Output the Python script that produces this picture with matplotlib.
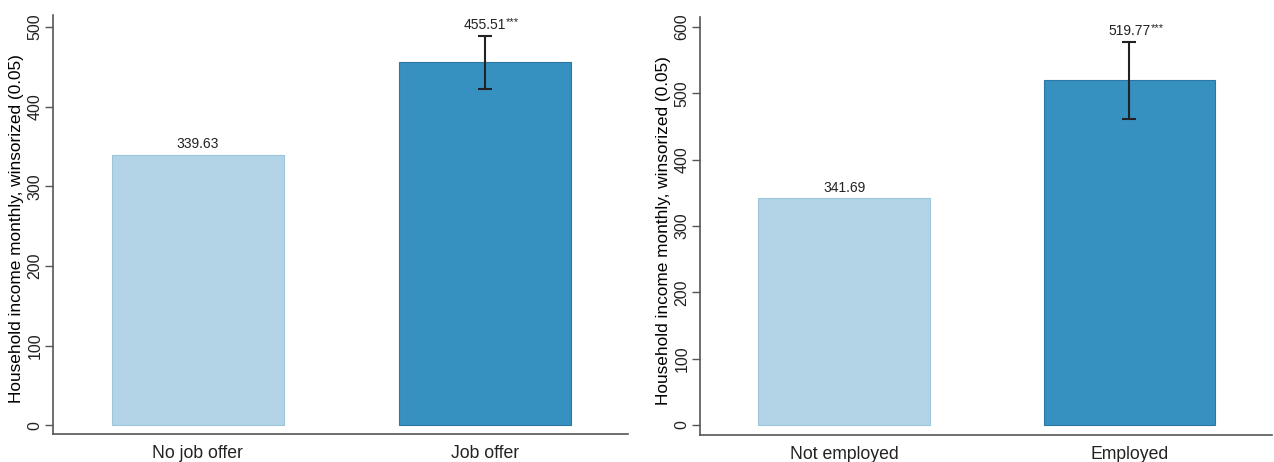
import numpy as np
import matplotlib
matplotlib.use('Agg')
import matplotlib.pyplot as plt

plt.rcParams['font.family'] = ['Liberation Sans', 'DejaVu Sans']

ylabel = 'Household income monthly, winsorized (0.05)'

# left panel: job offer
left_cats = ['No job offer', 'Job offer']
left_means = [339.63, 455.51]
left_ci_lo = [None, 422.0]
left_ci_hi = [None, 489.0]
left_stars = ['', '***']

# right panel: employment
right_cats = ['Not employed', 'Employed']
right_means = [341.69, 519.77]
right_ci_lo = [None, 461.5]
right_ci_hi = [None, 578.0]
right_stars = ['', '***']

colors = ['#b2d4e6', '#3690c0']
edges = ['#9cc4da', '#2a78a6']
gray = '#555555'

fig = plt.figure(figsize=(12.74, 4.62), dpi=100)
ax1 = fig.add_axes([53 / 1274, 28 / 462, 575 / 1274, 419 / 462])
ax2 = fig.add_axes([700 / 1274, 27 / 462, 572 / 1274, 418 / 462])


def draw(ax, cats, means, lo, hi, stars, ylim, ticks):
    x = np.arange(len(cats))
    ax.bar(x, means, width=0.6, color=colors, edgecolor=edges, linewidth=0.8)
    for i, m in enumerate(means):
        top = m
        if lo[i] is not None:
            ax.errorbar(x[i], m, yerr=[[m - lo[i]], [hi[i] - m]], fmt='none',
                        ecolor='#222222', elinewidth=1.5, capsize=5, capthick=1.5)
            top = hi[i]
        t = ax.text(x[i], top + (ylim[1] - ylim[0]) * 0.008, f'{m:.2f}', ha='center',
                    va='bottom', fontsize=10, color='#222222')
        if stars[i]:
            ax.annotate(stars[i], xy=(1, 1), xycoords=t, xytext=(0, 1),
                        textcoords='offset points', ha='left', va='top',
                        fontsize=8, color='#222222')
    ax.set_xlim(-0.505, 1.5)
    ax.set_ylim(*ylim)
    ax.set_xticks(x)
    ax.set_xticklabels(cats, fontsize=12.7)
    ax.set_yticks(ticks)
    ax.set_yticklabels([str(t) for t in ticks], rotation=90, va='center', fontsize=11.5)
    ax.set_ylabel(ylabel, fontsize=12.4)
    ax.yaxis.set_label_coords(-0.051, 0.49)
    for s in ['top', 'right']:
        ax.spines[s].set_visible(False)
    for s in ['left', 'bottom']:
        ax.spines[s].set_color(gray)
        ax.spines[s].set_linewidth(1.2)
    ax.tick_params(axis='y', colors=gray, labelcolor='#222222', length=6, width=1, pad=1.5)
    ax.tick_params(axis='x', length=0, pad=8, labelcolor='#222222')


draw(ax1, left_cats, left_means, left_ci_lo, left_ci_hi, left_stars,
     (-11, 515), [0, 100, 200, 300, 400, 500])
draw(ax2, right_cats, right_means, right_ci_lo, right_ci_hi, right_stars,
     (-15, 615), [0, 100, 200, 300, 400, 500, 600])

plt.savefig('out.png', dpi=100)
